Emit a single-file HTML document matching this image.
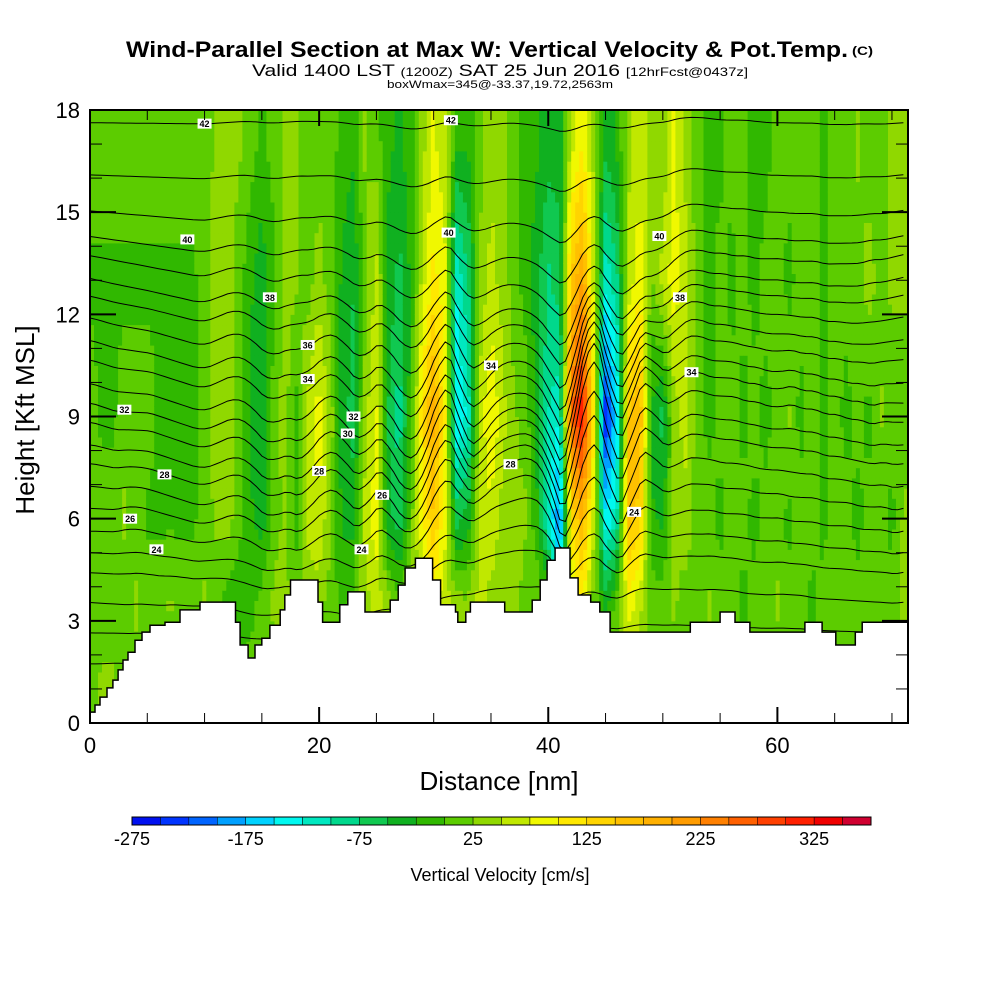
<!DOCTYPE html>
<html><head><meta charset="utf-8">
<style>
html,body{margin:0;padding:0;background:#fff;}
svg{display:block;font-family:"Liberation Sans Narrow","Liberation Sans",sans-serif;}
</style></head>
<body>
<svg id="chart" width="1000" height="1000" viewBox="0 0 1000 1000" xmlns="http://www.w3.org/2000/svg">
<defs><clipPath id="plotclip"><rect x="90" y="110" width="818" height="613"/></clipPath></defs>
<rect x="0" y="0" width="1000" height="1000" fill="#fff"/>
<text x="126" y="57" font-size="22" font-weight="bold" textLength="722" lengthAdjust="spacingAndGlyphs">Wind-Parallel Section at Max W: Vertical Velocity &amp; Pot.Temp.</text>
<text x="852" y="55" font-size="12" font-weight="bold" textLength="21" lengthAdjust="spacingAndGlyphs">(C)</text>
<text x="252" y="76" font-size="17" textLength="496" lengthAdjust="spacingAndGlyphs">Valid 1400 LST <tspan font-size="12">(1200Z)</tspan> SAT 25 Jun 2016 <tspan font-size="12">[12hrFcst@0437z]</tspan></text>
<text x="387" y="88" font-size="11" textLength="226" lengthAdjust="spacingAndGlyphs">boxWmax=345@-33.37,19.72,2563m</text>
<g id="field"></g>
<g id="theta" clip-path="url(#plotclip)"></g>
<g id="terrain"></g>
<g id="labels"></g>
<g id="axes"></g>
<text x="499" y="790" font-size="26" text-anchor="middle" font-family="Liberation Sans, sans-serif">Distance [nm]</text>
<text x="0" y="0" font-size="26" text-anchor="middle" font-family="Liberation Sans, sans-serif" transform="translate(34,420) rotate(-90)">Height [Kft MSL]</text>
<g id="colorbar"></g>
<text x="500" y="881" font-size="18" text-anchor="middle" font-family="Liberation Sans, sans-serif">Vertical Velocity [cm/s]</text>
</svg>
<script>
// ---------- data ----------
const rowHeights = [1, 3.5, 6, 9, 13, 17];
const wRow1 = [12,30,30,12,12,30,12,12,12,12,12,12,12,12,12,12,12,12,12,12,12,12,12,12,30,30,30,12,30,30,30,30,30,30,30,30,30,12,12,12,12,12,12,12,12,12,12,12,12,12,12,12,12,12,12,12,12,12,12,12,12,12,12,12,12,12,12,12,12,12,12,12];
const wRow35 = [12,12,12,12,30,12,12,30,12,12,30,12,-10,-20,-10,12,30,37,12,30,37,12,-10,12,40,60,37,12,30,60,80,60,37,30,60,40,30,37,12,30,12,-150,60,100,12,-30,12,90,60,12,12,30,12,12,30,12,12,-10,12,12,30,12,12,-10,12,12,12,12,12,12,12,37];
const wRow6 = [12,12,12,30,12,-5,-5,-5,-5,-5,12,30,37,12,-20,-40,12,30,-10,60,70,30,-30,-40,60,90,-40,-70,12,90,150,80,-60,-40,50,70,40,37,30,-20,-120,-200,120,180,60,-150,-100,160,140,-20,-30,30,40,12,12,-10,12,12,-10,12,12,-10,12,12,-10,12,12,-10,12,12,-10,30];
const wRow9 = [12,-5,-5,12,12,12,-5,-5,-5,-5,12,37,40,12,-30,-50,12,37,-10,60,90,40,-40,-60,40,80,-50,-90,-10,120,190,100,-150,-120,60,100,60,30,12,-30,-100,-120,250,330,100,-250,-150,150,180,-30,-60,40,60,12,-10,12,12,-10,12,-10,12,30,-10,12,-10,12,-10,12,-10,30,12,12];
const wRow13 = [-5,-5,-5,-5,-5,-5,-5,-5,-5,-5,12,37,37,12,-20,-40,-10,37,30,12,37,12,-30,-50,12,60,-30,-60,-20,60,110,80,-120,-80,30,60,40,12,-10,-40,-80,-60,150,200,60,-120,-80,60,90,20,60,90,60,12,-10,12,-10,12,-10,12,12,-10,12,12,-10,12,12,12,37,12,30,30];
const wRow17 = [12,12,12,12,12,12,12,12,12,12,12,30,30,30,12,-10,12,30,30,12,12,12,-10,-20,30,12,-20,-30,-10,40,80,60,-20,-20,12,40,40,12,-10,-20,-40,-40,60,100,40,-40,-20,40,70,40,30,80,40,12,-10,-10,12,12,-10,-10,12,12,12,12,-10,12,12,30,12,12,30,30];
const terrainX = [0,0.44,0.87,1.48,2.0,2.45,2.88,3.32,3.93,4.54,5.24,6.55,7.86,9.6,12.7,13.1,13.8,14.4,15.0,15.7,16.6,17.0,17.5,19.9,20.3,21.8,22.5,24.0,26.2,26.9,27.5,28.4,29.9,30.6,31.9,32.1,32.8,33.2,36.2,38.6,39.3,39.9,40.6,41.9,42.6,43.7,44.5,45.4,52.4,55.0,56.3,57.6,62.4,63.9,65.1,66.8,67.4,71.4];
const terrainH = [0.32,0.53,0.76,1.03,1.26,1.56,1.85,2.08,2.43,2.67,2.87,2.96,3.32,3.55,2.96,2.29,1.91,2.29,2.49,2.87,3.32,3.76,4.2,3.55,2.96,3.47,3.85,3.26,3.61,4.05,4.55,4.84,4.2,3.47,3.26,2.96,3.26,3.55,3.26,3.61,4.2,4.78,5.14,4.26,3.76,3.55,3.26,2.67,2.96,3.26,2.96,2.67,2.96,2.67,2.29,2.67,2.96,2.96];
const thetaLevels = [20,21,22,23,24,25,26,27,28,29,30,31,32,33,34,35,36,37,38,39,40,41,42];
const thetaBaseH  = [1.8,2.7,3.6,4.5,5.1,5.75,6.4,7.0,7.6,8.1,8.7,9.2,9.7,10.3,10.8,11.4,12.0,12.5,13.2,13.9,14.8,16.0,17.6];
const xTicks = [0,20,40,60];
const yTicks = [0,3,6,9,12,15,18];
const cbLabels = [-275,-175,-75,25,125,225,325];
const cbColors = ["#0010f0","#0034ff","#0064ff","#00a0ff","#00d2ff","#00f8f0","#00e8c0","#00d88c","#10c850","#10b020","#30b800","#5ccc00","#90d800","#c0e800","#f0f800","#ffe800","#ffd400","#ffc000","#ffb000","#ff9c00","#ff8000","#ff6000","#ff4000","#ff2000","#f00000","#d00030"];
const cbMin = -275, cbStep = 25;
const rows = [wRow1,wRow35,wRow6,wRow9,wRow13,wRow17];

// ---------- axes functions ----------
const X0=90, X1=908, Y0=723, Y1=110, XMAX=71.4, HMAX=18;
const sx = d => X0 + (X1-X0)*d/XMAX;
const sy = h => Y0 - (Y0-Y1)*h/HMAX;
const NS="http://www.w3.org/2000/svg";
function mk(tag, attrs, parent){const e=document.createElementNS(NS,tag);for(const k in attrs)e.setAttribute(k,attrs[k]);parent.appendChild(e);return e;}

function wAt(d,h){
  let i=Math.floor(d); if(i<0)i=0; if(i>70)i=70; const fx=Math.min(1,Math.max(0,d-i));
  const rowVal=r=>r[i]*(1-fx)+r[Math.min(i+1,r.length-1)]*fx;
  if(h<=rowHeights[0]) return rowVal(rows[0]);
  for(let k=0;k<rowHeights.length-1;k++){
    if(h<=rowHeights[k+1]){const f=(h-rowHeights[k])/(rowHeights[k+1]-rowHeights[k]);return rowVal(rows[k])*(1-f)+rowVal(rows[k+1])*f;}
  }
  return rowVal(rows[rows.length-1]);
}
function colorFor(w){let k=Math.floor((w-cbMin)/cbStep);if(k<0)k=0;if(k>=cbColors.length)k=cbColors.length-1;return cbColors[k];}

// field
const field=document.getElementById('field');
const DX=0.35, DH=0.3;
for(let d=0; d<XMAX; d+=DX){
  for(let h=0; h<HMAX; h+=DH){
    const w=wAt(d+DX/2,h+DH/2);
    const r=mk('rect',{x:sx(d).toFixed(1),y:sy(h+DH).toFixed(1),width:(sx(d+DX)-sx(d)+0.6).toFixed(1),height:(sy(h)-sy(h+DH)+0.6).toFixed(1),fill:colorFor(w)},field);
    
    
  }
}

// theta contours: displacement from cumulative w along x
const theta=document.getElementById('theta');
function dispAt(h){
  const arr=[];let s=0;const vals=[];
  for(let d=0; d<=XMAX; d+=0.5){vals.push(wAt(d,h));}
  const mean=vals.reduce((a,b)=>a+b,0)/vals.length;
  for(let i=0;i<vals.length;i++){s+=(vals[i]-mean)*0.5;arr.push(s*0.006);}
  const m2=arr.reduce((a,b)=>a+b,0)/arr.length;
  return arr.map(v=>v-m2);
}
thetaLevels.forEach((lv,i)=>{
  const h0=thetaBaseH[i];
  const disp=dispAt(h0);
  let amp=Math.min(1,Math.max(0.3,(h0-1)/6));
  if(h0>11) amp*=Math.max(0.25,1-(h0-11)*0.13);
  let pts=[];
  for(let j=0;j<disp.length;j++){
    const d=j*0.5; const hh=h0+disp[j]*amp;
    pts.push(sx(Math.min(d,XMAX)).toFixed(1)+','+sy(hh).toFixed(1));
  }
  const p=mk('polyline',{points:pts.join(' '),fill:'none',stroke:'#000','stroke-width':1},theta);
  
  
});

// terrain
const terr=document.getElementById('terrain');
let tp=[sx(0)+','+sy(0)];
for(let i=0;i<terrainX.length;i++){
  const x1=sx(terrainX[i]), x2=sx(i+1<terrainX.length?terrainX[i+1]:XMAX);
  tp.push(x1.toFixed(1)+','+sy(terrainH[i]).toFixed(1));
  tp.push(x2.toFixed(1)+','+sy(terrainH[i]).toFixed(1));
}
tp.push(sx(XMAX)+','+sy(0));
const tpoly=mk('polygon',{points:tp.join(' '),fill:'#fff',stroke:'#000','stroke-width':1.5},terr);



// a few contour labels
const labs=document.getElementById('labels');
[[10,17.6,42],[31.5,17.7,42],[8.5,14.2,40],[31.3,14.4,40],[49.7,14.3,40],[15.7,12.5,38],[51.5,12.5,38],[19,11.1,36],[35,10.5,34],[19,10.1,34],[52.5,10.3,34],[3,9.2,32],[23,9.0,32],[22.5,8.5,30],[20,7.4,28],[36.7,7.6,28],[6.5,7.3,28],[3.5,6.0,26],[25.5,6.7,26],[5.8,5.1,24],[23.7,5.1,24],[47.5,6.2,24]].forEach(a=>{
  const g=mk('g',{},labs);
  
  
  mk('rect',{x:sx(a[0])-7,y:sy(a[1])-5,width:14,height:10,fill:'#fff'},g);
  const t=mk('text',{x:sx(a[0]),y:sy(a[1])+3.5,'font-size':9,'text-anchor':'middle','font-weight':'bold'},g);
  t.textContent=a[2];
});

// axes
const ax=document.getElementById('axes');
mk('rect',{x:X0,y:Y1,width:X1-X0,height:Y0-Y1,fill:'none',stroke:'#000','stroke-width':2},ax);
for(let d=0; d<=XMAX; d+=5){
  const major=xTicks.indexOf(d)>=0; const L=major?16:10;
  mk('line',{x1:sx(d),y1:Y0,x2:sx(d),y2:Y0-L,stroke:'#000','stroke-width':major?2:1},ax);
  mk('line',{x1:sx(d),y1:Y1,x2:sx(d),y2:Y1+L,stroke:'#000','stroke-width':major?2:1},ax);
}
xTicks.forEach(d=>{const t=mk('text',{x:sx(d),y:753,'font-size':22,'text-anchor':'middle','font-family':'Liberation Sans, sans-serif'},ax);t.textContent=d;});
for(let h=0; h<=HMAX; h+=1){
  const major=yTicks.indexOf(h)>=0; const L=major?26:12;
  mk('line',{x1:X0,y1:sy(h),x2:X0+L,y2:sy(h),stroke:'#000','stroke-width':major?2:1},ax);
  mk('line',{x1:X1,y1:sy(h),x2:X1-L,y2:sy(h),stroke:'#000','stroke-width':major?2:1},ax);
}
yTicks.forEach(h=>{const t=mk('text',{x:80,y:sy(h)+8,'font-size':22,'text-anchor':'end','font-family':'Liberation Sans, sans-serif'},ax);t.textContent=h;});

// colorbar
const cb=document.getElementById('colorbar');
const CB0=132, CB1=871, bw=(CB1-CB0)/cbColors.length;
cbColors.forEach((c,i)=>{const r=mk('rect',{x:CB0+i*bw,y:817,width:bw,height:8,fill:c,stroke:'#000','stroke-width':0.5},cb);});
mk('rect',{x:CB0,y:817,width:CB1-CB0,height:8,fill:'none',stroke:'#000','stroke-width':1},cb);
cbLabels.forEach(v=>{const t=mk('text',{x:CB0+(v-cbMin)/cbStep*bw,y:845,'font-size':18,'text-anchor':'middle','font-family':'Liberation Sans, sans-serif'},cb);t.textContent=v;});
</script>
</body></html>
